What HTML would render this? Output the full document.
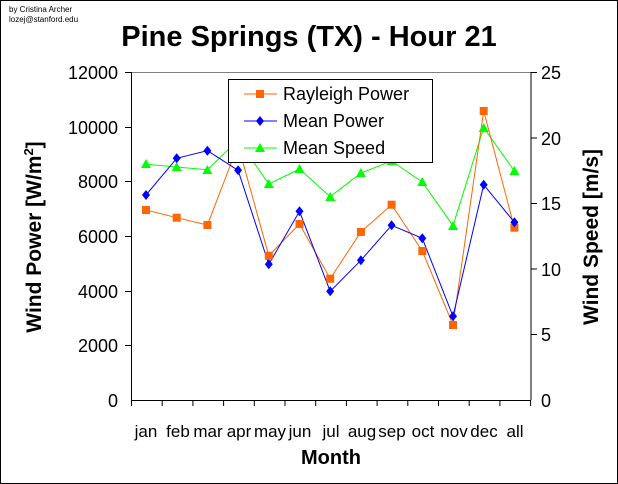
<!DOCTYPE html><html><head><style>body{margin:0;background:#fff}svg{display:block}</style></head><body>
<svg width="618" height="484" viewBox="0 0 618 484" xmlns="http://www.w3.org/2000/svg" font-family="Liberation Sans, Arial, sans-serif">
<rect x="0.5" y="0.5" width="617" height="483" fill="#fff" stroke="#000"/>
<text x="9" y="12" font-size="8">by Cristina Archer</text>
<text x="9" y="22" font-size="8">lozej@stanford.edu</text>
<text x="309" y="46" font-size="29" font-weight="bold" text-anchor="middle">Pine Springs (TX) - Hour 21</text>
<line x1="131.5" y1="72.5" x2="531" y2="72.5" stroke="#808080"/>
<line x1="131.5" y1="72" x2="131.5" y2="400" stroke="#000"/>
<line x1="531" y1="72" x2="531" y2="400" stroke="#000"/>
<line x1="131.5" y1="400.5" x2="531" y2="400.5" stroke="#000"/>
<g stroke="#000">
<line x1="125" y1="72.5" x2="131" y2="72.5"/><line x1="125" y1="127.5" x2="131" y2="127.5"/><line x1="125" y1="181.5" x2="131" y2="181.5"/><line x1="125" y1="236.5" x2="131" y2="236.5"/><line x1="125" y1="291.5" x2="131" y2="291.5"/><line x1="125" y1="345.5" x2="131" y2="345.5"/>
<line x1="531" y1="72.5" x2="537" y2="72.5"/><line x1="531" y1="138" x2="537" y2="138"/><line x1="531" y1="203.5" x2="537" y2="203.5"/><line x1="531" y1="269" x2="537" y2="269"/><line x1="531" y1="334.5" x2="537" y2="334.5"/>
<path d="M131.5 400v6M162.2 400v6M192.9 400v6M223.6 400v6M254.3 400v6M285 400v6M315.7 400v6M346.4 400v6M377.1 400v6M407.8 400v6M438.5 400v6M469.2 400v6M499.9 400v6M530.6 400v6"/>
</g>
<g font-size="18" text-anchor="end">
<text x="118" y="79">12000</text><text x="118" y="134">10000</text><text x="118" y="188">8000</text><text x="118" y="243">6000</text><text x="118" y="298">4000</text><text x="118" y="352">2000</text><text x="118" y="407">0</text>
</g>
<g font-size="18" text-anchor="start">
<text x="541" y="79">25</text><text x="541" y="145">20</text><text x="541" y="210">15</text><text x="541" y="276">10</text><text x="541" y="341">5</text><text x="541" y="407">0</text>
</g>
<g font-size="17" text-anchor="middle">
<text x="146" y="437">jan</text><text x="178" y="437">feb</text><text x="208" y="437">mar</text><text x="239" y="437">apr</text><text x="270" y="437">may</text><text x="300" y="437">jun</text><text x="331" y="437">jul</text><text x="362" y="437">aug</text><text x="392" y="437">sep</text><text x="423" y="437">oct</text><text x="454" y="437">nov</text><text x="484" y="437">dec</text><text x="515" y="437">all</text>
</g>
<text x="331" y="464" font-size="20" font-weight="bold" text-anchor="middle">Month</text>
<text transform="translate(41,237) rotate(-90)" font-size="21" font-weight="bold" text-anchor="middle">Wind Power [W/m<tspan font-size="13" dy="-8">2</tspan><tspan dy="8">]</tspan></text>
<text transform="translate(598,237) rotate(-90)" font-size="21" font-weight="bold" text-anchor="middle">Wind Speed [m/s]</text>
<polyline fill="none" stroke="#00ff00" points="146,164.3 176.7,167 207.4,169.7 238.1,140 268.8,184 299.5,169 330.2,196.7 360.9,173 391.6,161 422.3,182 453,225.7 483.7,127.7 514.4,171"/>
<polyline fill="none" stroke="#ff6600" points="146,210 176.7,217.7 207.4,225 238.1,145 268.8,255.7 299.5,224 330.2,278.7 360.9,232 391.6,204.7 422.3,251 453,325 483.7,111 514.4,227.7"/>
<polyline fill="none" stroke="#0000ff" points="146,195 176.7,158.3 207.4,150.7 238.1,170.3 268.8,264.3 299.5,211.3 330.2,291.3 360.9,260.3 391.6,225.3 422.3,238.3 453,316.3 483.7,184.7 514.4,222.3"/>
<g fill="#00ff00"><path d="M146,159l5,9h-10z M176.7,162l5,9h-10z M207.4,165l5,9h-10z M238.1,135l5,9h-10z M268.8,179l5,9h-10z M299.5,164l5,9h-10z M330.2,192l5,9h-10z M360.9,168l5,9h-10z M391.6,156l5,9h-10z M422.3,177l5,9h-10z M453,221l5,9h-10z M483.7,123l5,9h-10z M514.4,166l5,9h-10z"/></g>
<g fill="#ff6600"><rect x="142" y="206" width="8" height="8"/><rect x="172.7" y="213.7" width="8" height="8"/><rect x="203.4" y="221" width="8" height="8"/><rect x="234.1" y="141" width="8" height="8"/><rect x="264.8" y="251.7" width="8" height="8"/><rect x="295.5" y="220" width="8" height="8"/><rect x="326.2" y="274.7" width="8" height="8"/><rect x="356.9" y="228" width="8" height="8"/><rect x="387.6" y="200.7" width="8" height="8"/><rect x="418.3" y="247" width="8" height="8"/><rect x="449" y="321" width="8" height="8"/><rect x="479.7" y="107" width="8" height="8"/><rect x="510.4" y="223.7" width="8" height="8"/></g>
<g fill="#0000ff"><path d="M146,190l4,5l-4,5l-4,-5z M176.7,153.3l4,5l-4,5l-4,-5z M207.4,145.7l4,5l-4,5l-4,-5z M238.1,165.3l4,5l-4,5l-4,-5z M268.8,259.3l4,5l-4,5l-4,-5z M299.5,206.3l4,5l-4,5l-4,-5z M330.2,286.3l4,5l-4,5l-4,-5z M360.9,255.3l4,5l-4,5l-4,-5z M391.6,220.3l4,5l-4,5l-4,-5z M422.3,233.3l4,5l-4,5l-4,-5z M453,311.3l4,5l-4,5l-4,-5z M483.7,179.7l4,5l-4,5l-4,-5z M514.4,217.3l4,5l-4,5l-4,-5z"/></g>
<rect x="228.5" y="79.5" width="204" height="83" fill="#fff" stroke="#000"/>
<line x1="244" y1="94" x2="277" y2="94" stroke="#ff6600"/><rect x="256" y="90" width="8" height="8" fill="#ff6600"/>
<line x1="244" y1="121" x2="277" y2="121" stroke="#0000ff"/><path d="M260,116l4,5l-4,5l-4,-5z" fill="#0000ff"/>
<line x1="244" y1="148" x2="277" y2="148" stroke="#00ff00"/><path d="M260,143l5,9h-10z" fill="#00ff00"/>
<g font-size="18"><text x="283" y="100">Rayleigh Power</text><text x="283" y="127">Mean Power</text><text x="283" y="154">Mean Speed</text></g>
</svg>
</body></html>
